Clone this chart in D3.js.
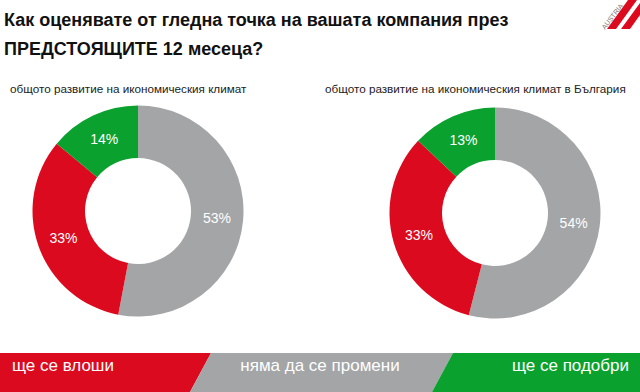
<!DOCTYPE html>
<html>
<head>
<meta charset="utf-8">
<script src="https://cdn.jsdelivr.net/npm/d3@7"></script>
<style>
  body { margin: 0; background: #fff; }
  svg { display: block; font-family: "Liberation Sans", Arial, sans-serif; }
</style>
</head>
<body>
<script>
// chart data
var titleLines = ["Как оценявате от гледна точка на вашата компания през", "ПРЕДСТОЯЩИТЕ 12 месеца?"];
var categories = ["няма да се промени", "ще се влоши", "ще се подобри"];
var colors = ["#a3a5a7", "#dc0a1e", "#0aa12e"];
var chartTitles = ["общото развитие на икономическия климат", "общото развитие на икономическия климат в България"];
var valuesLeft = [53, 33, 14];
var valuesRight = [54, 33, 13];
var legendOrder = ["ще се влоши", "няма да се промени", "ще се подобри"];

var width = 640;
var height = 392;

var svg = d3.select("body")
  .append("svg")
  .attr("width", width)
  .attr("height", height);

// title
svg.append("g").selectAll("text")
  .data(titleLines)
  .enter()
  .append("text")
  .attr("x", 4)
  .attr("y", function(d, i) { return 26 + i * 29; })
  .style("font-size", "18px")
  .style("font-weight", "bold")
  .style("fill", "#111")
  .text(function(d) { return d; });

// logo top right
var logo = svg.append("g");
logo.append("path")
  .attr("d", "M607,29 L628,0 L637,0 L616,29 Z")
  .attr("fill", "#dc0a1e");
logo.append("path")
  .attr("d", "M621,29 L640,3 L640,15 L630,29 Z")
  .attr("fill", "#dc0a1e");
logo.append("text")
  .attr("transform", "translate(605,30) rotate(-52)")
  .style("font-size", "7px")
  .style("fill", "#777")
  .text("AUSTRIA");

var color = d3.scaleOrdinal().domain(categories).range(colors);

var pie = d3.pie()
  .sort(null)
  .value(function(d) { return d.value; });

var arc = d3.arc().innerRadius(53).outerRadius(105.5);

function donut(values, cx, cy, title, tx) {
  var data = categories.map(function(c, i) { return {cat: c, value: values[i]}; });
  var g = svg.append("g").attr("transform", "translate(" + [cx, cy] + ")");

  g.selectAll("path")
    .data(pie(data))
    .enter()
    .append("path")
    .attr("d", arc)
    .attr("fill", function(d) { return color(d.data.cat); });

  g.selectAll("text")
    .data(pie(data))
    .enter()
    .append("text")
    .attr("transform", function(d) { return "translate(" + arc.centroid(d) + ")"; })
    .attr("text-anchor", "middle")
    .attr("dy", "0.35em")
    .style("font-size", "14px")
    .style("fill", "#fff")
    .text(function(d) { return d.data.value + "%"; });

  svg.append("text")
    .attr("x", tx)
    .attr("y", 93)
    .style("font-size", "11.7px")
    .style("fill", "#222")
    .text(title);
}

donut(valuesLeft, 138, 211, chartTitles[0], 10);
donut(valuesRight, 495, 213, chartTitles[1], 325);

// legend band at the bottom
var band = svg.append("g");
var bandTop = 353;
var cuts = [0, 211, 453, 640];
var slant = 21;
legendOrder.forEach(function(c, i) {
  var x0 = cuts[i], x1 = cuts[i + 1];
  var bl = i === 0 ? x0 : x0 - slant;
  var br = i === 2 ? x1 : x1 - slant;
  band.append("path")
    .attr("d", "M" + x0 + "," + bandTop + " L" + x1 + "," + bandTop + " L" + br + "," + height + " L" + bl + "," + height + " Z")
    .attr("fill", color(c));
});

var labelPos = [
  {x: 12, anchor: "start"},
  {x: 320, anchor: "middle"},
  {x: 629, anchor: "end"}
];
band.selectAll("text")
  .data(legendOrder)
  .enter()
  .append("text")
  .attr("x", function(d, i) { return labelPos[i].x; })
  .attr("y", 371)
  .attr("text-anchor", function(d, i) { return labelPos[i].anchor; })
  .style("font-size", "17px")
  .style("fill", "#fff")
  .text(function(d) { return d; });
</script>
</body>
</html>
